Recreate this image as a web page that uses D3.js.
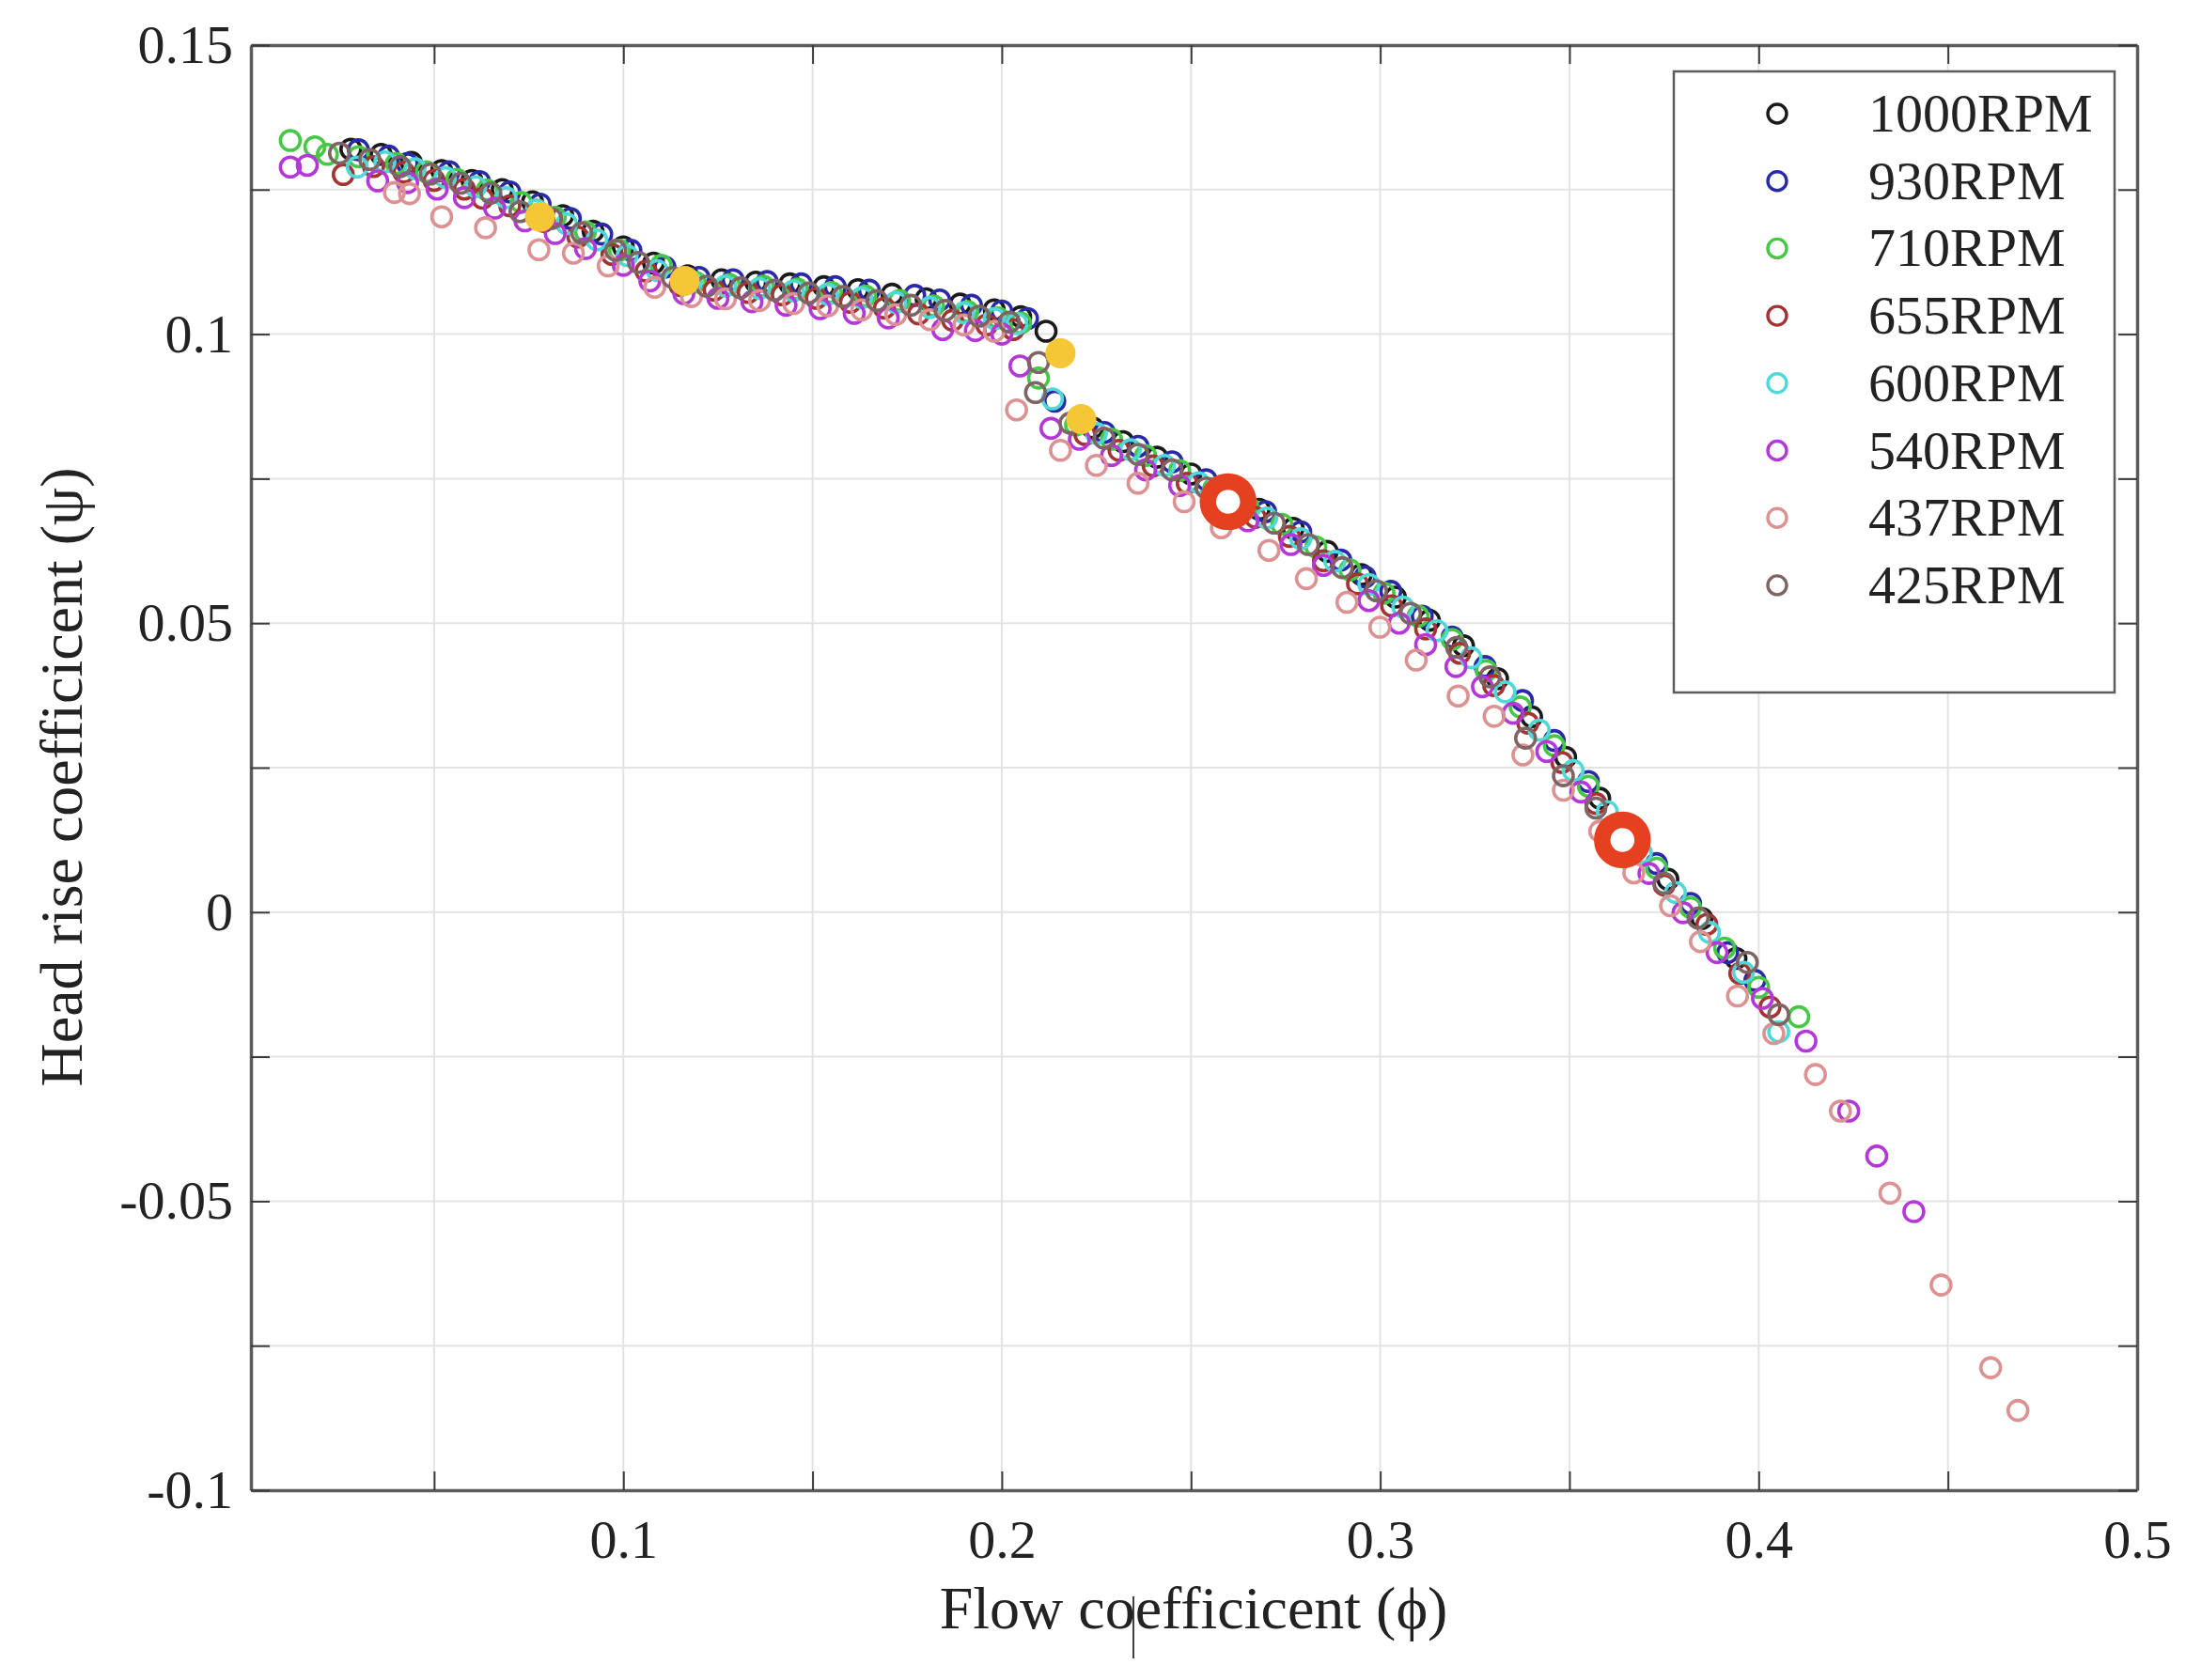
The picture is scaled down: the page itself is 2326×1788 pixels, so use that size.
<!DOCTYPE html>
<html><head><meta charset="utf-8">
<script src="https://cdn.jsdelivr.net/npm/d3@7"></script>
<style>html,body{margin:0;padding:0;background:#fff;} svg{display:block;}</style>
</head><body>
<svg id="c" width="2326" height="1788"></svg>
<script>
// ---------- data ----------
const seriesNames = ["1000RPM","930RPM","710RPM","655RPM","600RPM","540RPM","437RPM","425RPM"];
const seriesColors = ["#1a1a1a","#2a2aa8","#46c846","#a33434","#4fd8d8","#b338d6","#dc9292","#7e6464"];

const rpm1000 = [[0.028,0.1320],[0.036,0.1311],[0.044,0.1297],[0.052,0.1283],[0.060,0.1266],[0.068,0.1250],[0.076,0.1229],[0.084,0.1205],[0.092,0.1178],[0.100,0.1151],[0.108,0.1123],[0.117,0.1101],[0.126,0.1094],[0.135,0.1090],[0.144,0.1087],[0.153,0.1082],[0.162,0.1077],[0.171,0.1069],[0.180,0.1061],[0.189,0.1052],[0.198,0.1042],[0.205,0.1030],[0.2117,0.1005],
  [0.224,0.0838],[0.232,0.0814],[0.241,0.0787],[0.250,0.0758],[0.259,0.0726],[0.268,0.0697],[0.277,0.0664],[0.286,0.0624],[0.295,0.0584],[0.304,0.0545],[0.313,0.0505],[0.322,0.0461],[0.331,0.0404],[0.340,0.0338],[0.349,0.0268],[0.358,0.0197],[0.367,0.0126],[0.376,0.0057],[0.385,-0.0011],[0.394,-0.0080]];
const rpm930 = [[0.030,0.1319],[0.038,0.1308],[0.0429,0.1295],[0.054,0.1281],[0.062,0.1264],[0.070,0.1246],[0.078,0.1225],[0.086,0.1200],[0.0943,0.1173],[0.102,0.1145],[0.111,0.1116],[0.120,0.1098],[0.129,0.1094],[0.138,0.1091],[0.147,0.1087],[0.156,0.1082],[0.165,0.1076],[0.177,0.1067],[0.1836,0.1059],[0.192,0.1050],[0.200,0.1040],[0.2068,0.1027],
  [0.2140,0.0884],
  [0.2271,0.0830],[0.236,0.0806],[0.245,0.0779],[0.254,0.0748],[0.263,0.0717],[0.2697,0.0693],[0.279,0.0658],[0.2896,0.0609],[0.296,0.0580],[0.3028,0.0555],[0.3111,0.0512],[0.319,0.0476],[0.3277,0.0425],[0.3376,0.0366],[0.346,0.0297],[0.355,0.0226],[0.364,0.0150],[0.373,0.0084],[0.382,0.0015],[0.3918,-0.0070],[0.399,-0.0118]];
const rpm710 = [[0.012,0.1335],[0.0185,0.1324],[0.0218,0.1311],[0.030,0.1307],[0.040,0.1295],[0.0479,0.1281],[0.056,0.1268],[0.064,0.1249],[0.073,0.1228],[0.082,0.1202],[0.090,0.1177],[0.099,0.1145],[0.110,0.1119],[0.119,0.1090],[0.128,0.1086],[0.137,0.1083],[0.146,0.1078],[0.155,0.1072],[0.164,0.1066],[0.173,0.1058],[0.182,0.1049],[0.191,0.1039],[0.199,0.1028],[0.205,0.1019],
  [0.2097,0.0924],
  [0.2195,0.0843],[0.229,0.0818],[0.238,0.0790],[0.247,0.0764],[0.256,0.0733],[0.265,0.0702],[0.274,0.0671],[0.283,0.0632],[0.292,0.0592],[0.301,0.0552],[0.310,0.0512],[0.319,0.0472],[0.328,0.0418],[0.337,0.0355],[0.346,0.0288],[0.355,0.0218],[0.364,0.0146],[0.373,0.0076],[0.382,0.0008],[0.391,-0.0062],[0.400,-0.0130],[0.4106,-0.0181]];
const rpm655 = [[0.026,0.1276],[0.034,0.1290],[0.042,0.1280],[0.050,0.1266],[0.058,0.1251],[0.0628,0.1235],[0.070,0.1222],[0.079,0.1195],[0.088,0.1168],[0.097,0.1138],[0.106,0.1109],[0.115,0.1084],[0.124,0.1076],[0.133,0.1072],[0.142,0.1068],[0.151,0.1062],[0.160,0.1055],[0.169,0.1045],[0.178,0.1035],[0.187,0.1024],[0.196,0.1016],[0.203,0.1008],
  [0.222,0.0826],[0.231,0.0799],[0.240,0.0772],[0.249,0.0742],[0.258,0.0712],[0.267,0.0683],[0.276,0.0650],[0.285,0.0608],[0.294,0.0568],[0.303,0.0530],[0.312,0.0490],[0.321,0.0448],[0.330,0.0392],[0.339,0.0327],[0.348,0.0259],[0.357,0.0188],[0.366,0.0116],[0.375,0.0047],[0.3863,-0.0021],[0.395,-0.0106],[0.403,-0.0164]];
const rpm600 = [[0.0297,0.1289],[0.037,0.1298],[0.045,0.1286],[0.053,0.1271],[0.061,0.1255],[0.069,0.1236],[0.077,0.1215],[0.085,0.1191],[0.093,0.1163],[0.101,0.1136],[0.109,0.1110],[0.118,0.1090],[0.127,0.1083],[0.136,0.1079],[0.145,0.1075],[0.154,0.1069],[0.163,0.1063],[0.172,0.1055],[0.181,0.1046],[0.190,0.1037],[0.198,0.1027],[0.204,0.1018],
  [0.2134,0.0888],
  [0.225,0.0828],[0.234,0.0800],[0.243,0.0773],[0.252,0.0743],[0.261,0.0711],[0.270,0.0682],[0.279,0.0646],[0.288,0.0607],[0.297,0.0567],[0.306,0.0528],[0.315,0.0487],[0.324,0.0440],[0.333,0.0381],[0.342,0.0315],[0.351,0.0245],[0.360,0.0174],[0.369,0.0103],[0.378,0.0034],[0.387,-0.0035],[0.396,-0.0104],[0.4053,-0.0207]];
const rpm540 = [[0.012,0.1289],[0.0165,0.1292],[0.0351,0.1265],[0.043,0.1262],[0.0508,0.1251],[0.058,0.1236],[0.066,0.1218],[0.074,0.1196],[0.082,0.1174],[0.090,0.1148],[0.100,0.1119],[0.107,0.1092],[0.116,0.1070],[0.125,0.1062],[0.134,0.1056],[0.143,0.1050],[0.152,0.1044],[0.161,0.1036],[0.170,0.1028],[0.1844,0.1008],[0.193,0.1006],[0.200,0.1000],
  [0.2048,0.0945],[0.2130,0.0837],
  [0.2205,0.0818],[0.229,0.0790],[0.238,0.0765],[0.247,0.0738],[0.256,0.0708],[0.265,0.0677],[0.2764,0.0636],[0.285,0.0600],[0.297,0.0539],[0.305,0.0500],[0.312,0.0463],[0.320,0.0425],[0.327,0.0390],[0.3351,0.0344],[0.344,0.0278],[0.353,0.0208],[0.362,0.0138],[0.371,0.0067],[0.380,-0.0001],[0.389,-0.0070],[0.401,-0.0149],[0.4125,-0.0223],[0.4238,-0.0344],[0.4312,-0.0422],[0.4410,-0.0518]];
const rpm437 = [[0.0395,0.1245],[0.0435,0.1243],[0.052,0.1203],[0.0636,0.1184],[0.0777,0.1146],[0.0868,0.1140],[0.096,0.1118],[0.1083,0.1081],[0.118,0.1065],[0.127,0.1061],[0.136,0.1058],[0.145,0.1053],[0.154,0.1049],[0.163,0.1042],[0.172,0.1034],[0.181,0.1025],[0.190,0.1016],[0.198,0.1005],
  [0.2039,0.0869],[0.2155,0.0799],
  [0.225,0.0773],[0.236,0.0742],[0.2482,0.0710],[0.258,0.0665],[0.2706,0.0626],[0.2805,0.0577],[0.2912,0.0536],[0.2999,0.0493],[0.3095,0.0436],[0.3206,0.0374],[0.3301,0.0339],[0.3377,0.0272],[0.3484,0.0211],[0.358,0.0140],[0.367,0.0068],[0.3767,0.0011],[0.3846,-0.0051],[0.3944,-0.0145],[0.404,-0.0210],[0.4150,-0.0281],[0.4216,-0.0344],[0.4347,-0.0486],[0.4482,-0.0645],[0.4613,-0.0788],[0.4685,-0.0862]];
const rpm425 = [[0.025,0.1313],[0.033,0.1302],[0.041,0.1290],[0.049,0.1277],[0.057,0.1261],[0.065,0.1244],[0.0727,0.1212],[0.081,0.1200],[0.089,0.1175],[0.098,0.1145],[0.104,0.1124],[0.113,0.1098],[0.122,0.1083],[0.131,0.1080],[0.140,0.1076],[0.149,0.1071],[0.158,0.1065],[0.167,0.1058],[0.176,0.1050],[0.185,0.1041],[0.194,0.1031],[0.202,0.1021],
  [0.2097,0.0951],[0.2089,0.0899],
  [0.218,0.0846],[0.227,0.0820],[0.236,0.0792],[0.245,0.0765],[0.254,0.0734],[0.263,0.0703],[0.272,0.0673],[0.281,0.0636],[0.290,0.0596],[0.299,0.0556],[0.308,0.0517],[0.3202,0.0458],[0.329,0.0407],[0.3384,0.0301],[0.3484,0.0236],[0.357,0.0180],[0.366,0.0110],[0.375,0.0050],[0.384,-0.0010],[0.397,-0.0087],[0.4053,-0.0177]];

const highlightFilled = [[0.0780,0.1203],[0.1162,0.1092],[0.2155,0.0967],[0.2210,0.0853]];
const highlightRings = [[0.2598,0.0710],[0.3640,0.0125]];

const xTickMarks = [0.05,0.1,0.15,0.2,0.25,0.3,0.35,0.4,0.45,0.5];
const xTickLabels = [0.1,0.2,0.3,0.4,0.5];
const yTickMarks = [-0.1,-0.075,-0.05,-0.025,0,0.025,0.05,0.075,0.1,0.125,0.15];
const yTickLabels = [-0.1,-0.05,0,0.05,0.1,0.15];
const xGrid = [0.05,0.1,0.15,0.2,0.25,0.3,0.35,0.4,0.45];
const yGrid = [-0.075,-0.05,-0.025,0,0.025,0.05,0.075,0.1,0.125];

const xTitle = "Flow coefficicent (\u03d5)";
const yTitle = "Head rise coefficicent (\u03c8)";

// ---------- drawing ----------
const FONT = "'Liberation Serif','Times New Roman',serif";
const svg = d3.select("#c");
svg.append("rect").attr("width",2326).attr("height",1788).attr("fill","#fff");

const x = d3.scaleLinear().domain([0.0016, 0.5]).range([267, 2274]);
const y = d3.scaleLinear().domain([-0.1, 0.15]).range([1586, 48]);

// grid
const grid = svg.append("g");
grid.selectAll("line.gx").data(xGrid).join("line").attr("class","gx")
  .attr("x1", d => x(d)).attr("x2", d => x(d)).attr("y1", y(0.15)).attr("y2", y(-0.1))
  .attr("stroke", "#e3e3e3").attr("stroke-width", 2);
grid.selectAll("line.gy").data(yGrid).join("line").attr("class","gy")
  .attr("y1", d => y(d)).attr("y2", d => y(d)).attr("x1", x.range()[0]).attr("x2", x.range()[1])
  .attr("stroke", "#e3e3e3").attr("stroke-width", 2);

function styleAxis(g) {
  g.attr("font-family", FONT).attr("font-size", 58);
  g.select(".domain").attr("stroke", "#5c5c5c").attr("stroke-width", 3.5);
  g.selectAll(".tick line").attr("stroke", "#3a3a3a").attr("stroke-width", 2);
  g.selectAll(".tick text").attr("fill", "#222");
}
const fmt = d => String(d);

svg.append("g").attr("transform", `translate(0,${y(-0.1)})`)
  .call(d3.axisBottom(x).tickValues(xTickMarks).tickSizeInner(-20).tickSizeOuter(0).tickPadding(31)
    .tickFormat(d => xTickLabels.includes(d) ? fmt(d) : ""))
  .call(styleAxis);
svg.append("g").attr("transform", `translate(0,${y(0.15)})`)
  .call(d3.axisTop(x).tickValues(xTickMarks).tickSizeInner(-20).tickSizeOuter(0).tickFormat(() => ""))
  .call(styleAxis);
svg.append("g").attr("transform", `translate(${x.range()[0]},0)`)
  .call(d3.axisLeft(y).tickValues(yTickMarks).tickSizeInner(-20).tickSizeOuter(0).tickPadding(19)
    .tickFormat(d => yTickLabels.includes(d) ? fmt(d) : ""))
  .call(styleAxis);
svg.append("g").attr("transform", `translate(${x.range()[1]},0)`)
  .call(d3.axisRight(y).tickValues(yTickMarks).tickSizeInner(-20).tickSizeOuter(0).tickFormat(() => ""))
  .call(styleAxis);

// series
const seriesData = [rpm1000, rpm930, rpm710, rpm655, rpm600, rpm540, rpm437, rpm425];
seriesData.forEach((pts, i) => {
  svg.append("g").selectAll("circle").data(pts).join("circle")
    .attr("cx", d => x(d[0])).attr("cy", d => y(d[1])).attr("r", 10.5)
    .attr("fill", "none").attr("stroke", seriesColors[i]).attr("stroke-width", 3.6);
});

// highlights
svg.append("g").selectAll("circle").data(highlightFilled).join("circle")
  .attr("cx", d => x(d[0])).attr("cy", d => y(d[1])).attr("r", 16)
  .attr("fill", "#f5c636");
svg.append("g").selectAll("circle").data(highlightRings).join("circle")
  .attr("cx", d => x(d[0])).attr("cy", d => y(d[1])).attr("r", 21.5)
  .attr("fill", "#fff").attr("stroke", "#e5401f").attr("stroke-width", 17.5);

// legend
const lg = svg.append("g");
lg.append("rect").attr("x", 1781).attr("y", 76).attr("width", 469).attr("height", 661)
  .attr("fill", "#fff").attr("stroke", "#5c5c5c").attr("stroke-width", 2.5);
const rows = lg.selectAll("g.row").data(seriesNames).join("g").attr("class","row")
  .attr("transform", (d, i) => `translate(0,${121 + i * 71.7})`);
rows.append("circle").attr("cx", 1891).attr("cy", 0).attr("r", 10)
  .attr("fill", "none").attr("stroke", (d, i) => seriesColors[i]).attr("stroke-width", 3.4);
rows.append("text").attr("x", 1988).attr("y", 19).text(d => d)
  .attr("font-family", FONT).attr("font-size", 58).attr("fill", "#222");

// axis titles
svg.append("text").attr("x", 1270).attr("y", 1733).attr("text-anchor", "middle")
  .attr("font-family", FONT).attr("font-size", 64).attr("fill", "#222").text(xTitle);
svg.append("text").attr("transform", "translate(87,827) rotate(-90)").attr("text-anchor", "middle")
  .attr("font-family", FONT).attr("font-size", 64).attr("fill", "#222").text(yTitle);

// stray cursor mark present in the source image
svg.append("line").attr("x1", 1206).attr("x2", 1206).attr("y1", 1699).attr("y2", 1765)
  .attr("stroke", "#000").attr("stroke-width", 1.5);
</script>
</body></html>
